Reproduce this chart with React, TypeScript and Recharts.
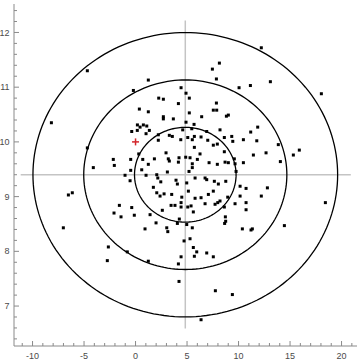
import { ScatterChart, Scatter, XAxis, YAxis, ReferenceLine } from 'recharts';

// sample points (x, y)
const samples: [number, number][] = [
  [-4.68, 11.3], [-8.17, 10.35], [-4.68, 9.89], [-4.1, 9.53],
  [12.21, 11.72], [13.09, 11.1], [18.04, 10.88], [13.86, 9.95], [12.67, 9.8], [15.32, 9.76], [15.9, 9.85], [14.06, 9.64],
  [12.8, 9.16], [12.21, 9.01], [18.43, 8.89], [14.45, 8.47],
  [7.75, 7.28], [9.4, 7.21], [6.36, 6.75], [4.22, 7.45],
  [-6.52, 9.03], [-6.14, 9.07], [-7.01, 8.43], [-2.64, 8.08], [-2.74, 7.83],
  [1.24, 11.13], [-0.21, 10.94], [4.42, 10.99], [2.25, 10.8], [2.7, 10.78], [4.16, 10.7], [0.37, 10.6], [1.24, 10.55],
  [2.7, 10.46], [2.7, 10.42], [3.67, 10.42],
  [8.14, 11.44], [7.46, 11.33], [7.85, 11.15], [10.05, 10.99], [11.15, 11.03], [4.9, 10.89], [5.22, 10.8], [7.85, 10.71],
  [5.22, 10.53], [7.55, 10.58], [7.88, 10.58], [6.42, 10.46], [8.82, 10.47], [9.01, 10.49], [4.9, 10.36], [5.68, 10.32],
  [0.18, 10.31], [0.44, 10.27], [0.76, 10.31], [1.09, 10.29],
  [-0.37, 10.19], [0.17, 10.21], [1.34, 10.21], [1.02, 10.15], [2.21, 10.13], [3.28, 10.12], [3.57, 10.1], [4.58, 10.22],
  [4.39, 10.04], [2.21, 10.03],
  [-2.16, 9.68], [-2.06, 9.57], [-0.47, 9.68], [0.7, 9.68], [0.31, 9.78], [2.96, 9.8], [1.83, 9.69], [3.18, 9.69],
  [3.28, 9.65], [4.22, 9.71], [4.16, 9.63], [1.24, 9.59], [0.6, 9.49], [-0.47, 9.48], [-1.02, 9.39], [1.02, 9.39],
  [2.06, 9.4], [2.16, 9.34], [3.09, 9.45], [2.45, 9.27], [-0.53, 9.29], [1.73, 9.17], [3.93, 9.3], [4.06, 9.23],
  [2.06, 9.07], [2.38, 9.01], [2.77, 9.05], [3.51, 9.04], [4.49, 8.99],
  [8.2, 10.22], [11.18, 10.18], [11.86, 10.27], [11.77, 10.02], [10.47, 10.04], [9.34, 10.1], [9.44, 10.01], [8.62, 10.08],
  [5.07, 10.08], [5.51, 10.04], [5.71, 10.1], [6.36, 10.09], [7.01, 10.03], [6.91, 10.19], [5.46, 10.24], [7.55, 9.94],
  [7.94, 9.96], [5.71, 9.9], [6.26, 9.78], [6.0, 9.68], [5.29, 9.71], [4.87, 9.72], [8.62, 9.82], [11.44, 9.76],
  [5.51, 9.6], [5.51, 9.53], [5.19, 9.46], [7.14, 9.62], [7.94, 9.59], [8.69, 9.63], [9.01, 9.62], [9.59, 9.69],
  [9.66, 9.6], [10.47, 9.62], [9.76, 9.46], [5.78, 9.34], [6.75, 9.34], [6.91, 9.31], [7.65, 9.28], [8.04, 9.23],
  [8.76, 9.28], [4.97, 9.25], [10.15, 9.19], [10.73, 9.15], [5.13, 9.1], [7.07, 9.04], [7.55, 9.1], [6.36, 8.98],
  [5.78, 8.97], [8.95, 8.99], [10.15, 9.01],
  [-1.57, 8.84], [-2.09, 8.7], [-1.41, 8.63], [-0.37, 8.8], [-0.12, 8.66], [1.41, 8.67], [0.92, 8.41], [1.99, 8.52],
  [3.03, 8.43], [3.13, 8.36], [2.6, 8.75], [3.45, 8.84], [3.83, 8.84], [4.42, 8.89], [4.42, 8.81], [4.25, 8.59],
  [4.06, 8.51], [4.71, 8.19], [-0.8, 7.99], [1.24, 7.82], [4.42, 7.9], [4.16, 7.77],
  [5.07, 8.81], [5.61, 8.72], [5.39, 8.83], [6.75, 8.87], [7.72, 8.86], [7.98, 8.89], [8.2, 8.92], [8.62, 8.81],
  [9.66, 8.87], [10.73, 8.89], [10.73, 8.76], [8.72, 8.63], [8.75, 8.55], [8.65, 8.51], [10.37, 8.41], [11.21, 8.39],
  [11.34, 8.41], [4.97, 8.49], [5.51, 8.43], [5.29, 8.23], [5.61, 8.07], [5.94, 7.99], [5.71, 7.91], [6.91, 7.97],
  [7.55, 7.9],
];

const target = [{ x: 0, y: 10 }];

// ring ellipses around the mean
const ringCenter = { x: 4.83, y: 9.4 };
const ringRadiiX = [4.93, 9.86, 14.79];
const ringRadiiY = [0.866, 1.732, 2.598];

// grey crosshair through the centre
const crossXRange = [-11.15, 20.9];
const crossYRange = [6.59, 12.22];

const xTicks = [-11, -10, -9, -8, -7, -6, -5, -4, -3, -2, -1, 0, 1, 2, 3, 4, 5, 6, 7, 8, 9, 10, 11, 12, 13, 14, 15, 16, 17, 18, 19, 20, 21];
const yTicks = [6.4, 6.6, 6.8, 7, 7.2, 7.4, 7.6, 7.8, 8, 8.2, 8.4, 8.6, 8.8, 9, 9.2, 9.4, 9.6, 9.8, 10, 10.2, 10.4, 10.6, 10.8, 11, 11.2, 11.4, 11.6, 11.8, 12, 12.2, 12.4];

const FRAME = '#8a8a8a';
const LABEL = '#4a4a4a';
const FONT = 'Liberation Sans, Arial, sans-serif';

const pointData = samples.map(([x, y]) => ({ x, y }));

function ellipse(rx: number, ry: number) {
  const pts = [];
  for (let i = 0; i <= 180; i++) {
    const t = (i / 180) * Math.PI * 2;
    pts.push({ x: ringCenter.x + rx * Math.cos(t), y: ringCenter.y + ry * Math.sin(t) });
  }
  return pts;
}

const isMajorX = (v: number) => v % 5 === 0;
const isMajorY = (v: number) => Math.abs(v - Math.round(v)) < 1e-6;

const BottomTick = (props: any) => {
  const { x, y, payload } = props;
  const major = isMajorX(payload.value);
  return (
    <g>
      <line x1={x} y1={y} x2={x} y2={y - (major ? 5 : 3)} stroke={FRAME} />
      {major && (
        <text x={x} y={y + 12.5} textAnchor="middle" fontSize={9} fontFamily={FONT} fill={LABEL}>
          {payload.value}
        </text>
      )}
    </g>
  );
};

const TopTick = (props: any) => {
  const { x, y, payload } = props;
  const major = isMajorX(payload.value);
  return <line x1={x} y1={y} x2={x} y2={y + (major ? 5 : 3)} stroke={FRAME} />;
};

const LeftTick = (props: any) => {
  const { x, y, payload } = props;
  const major = isMajorY(payload.value);
  return (
    <g>
      <line x1={x} y1={y} x2={x + (major ? 5 : 3)} y2={y} stroke={FRAME} />
      {major && (
        <text x={x - 4.5} y={y} dy="0.35em" textAnchor="end" fontSize={9} fontFamily={FONT} fill={LABEL}>
          {Math.round(payload.value)}
        </text>
      )}
    </g>
  );
};

const RightTick = (props: any) => {
  const { x, y, payload } = props;
  const major = isMajorY(payload.value);
  return <line x1={x} y1={y} x2={x - (major ? 5 : 3)} y2={y} stroke={FRAME} />;
};

const SquareDot = (props: any) => (
  <rect x={props.cx - 1.5} y={props.cy - 1.5} width={3} height={3} fill="#000" />
);

const PlusMark = (props: any) => (
  <g stroke="#d3262b" strokeWidth={1.5}>
    <line x1={props.cx - 3.5} y1={props.cy} x2={props.cx + 3.5} y2={props.cy} />
    <line x1={props.cx} y1={props.cy - 3.5} x2={props.cx} y2={props.cy + 3.5} />
  </g>
);

const Nothing = () => null;

export default function App() {
  return (
    <div style={{ position: 'absolute', left: 0, top: 0, background: '#fff' }}>
      <ScatterChart width={360} height={363} margin={{ top: 4, right: 3, bottom: 0, left: 0 }}>
        <XAxis
          type="number"
          dataKey="x"
          domain={[-11.8, 21.5]}
          allowDataOverflow
          ticks={xTicks}
          interval={0}
          height={17}
          tickSize={0}
          tickMargin={0}
          tickLine={false}
          tick={<BottomTick />}
          axisLine={{ stroke: FRAME }}
        />
        <XAxis
          xAxisId="top"
          orientation="top"
          type="number"
          dataKey="x"
          domain={[-11.8, 21.5]}
          allowDataOverflow
          ticks={xTicks}
          interval={0}
          height={0}
          tickSize={0}
          tickMargin={0}
          tickLine={false}
          tick={<TopTick />}
          axisLine={{ stroke: FRAME }}
        />
        <YAxis
          type="number"
          dataKey="y"
          domain={[6.27, 12.52]}
          allowDataOverflow
          ticks={yTicks}
          interval={0}
          width={14}
          tickSize={0}
          tickMargin={0}
          tickLine={false}
          tick={<LeftTick />}
          axisLine={{ stroke: FRAME }}
        />
        <YAxis
          yAxisId="right"
          orientation="right"
          type="number"
          dataKey="y"
          domain={[6.27, 12.52]}
          allowDataOverflow
          ticks={yTicks}
          interval={0}
          width={0}
          tickSize={0}
          tickMargin={0}
          tickLine={false}
          tick={<RightTick />}
          axisLine={{ stroke: FRAME }}
        />
        <ReferenceLine
          segment={[{ x: crossXRange[0], y: ringCenter.y }, { x: crossXRange[1], y: ringCenter.y }]}
          stroke="#c4c4c4"
          strokeWidth={1.5}
        />
        <ReferenceLine
          segment={[{ x: ringCenter.x, y: crossYRange[0] }, { x: ringCenter.x, y: crossYRange[1] }]}
          stroke="#c4c4c4"
          strokeWidth={1.5}
        />
        {ringRadiiX.map((rx, i) => (
          <Scatter
            key={i}
            data={ellipse(rx, ringRadiiY[i])}
            line={{ stroke: '#000', strokeWidth: 1.3 }}
            lineType="joint"
            shape={<Nothing />}
            isAnimationActive={false}
          />
        ))}
        <Scatter data={pointData} shape={<SquareDot />} isAnimationActive={false} />
        <Scatter data={target} shape={<PlusMark />} isAnimationActive={false} />
        <Scatter xAxisId="top" yAxisId="right" data={target} shape={<Nothing />} isAnimationActive={false} />
      </ScatterChart>
    </div>
  );
}
